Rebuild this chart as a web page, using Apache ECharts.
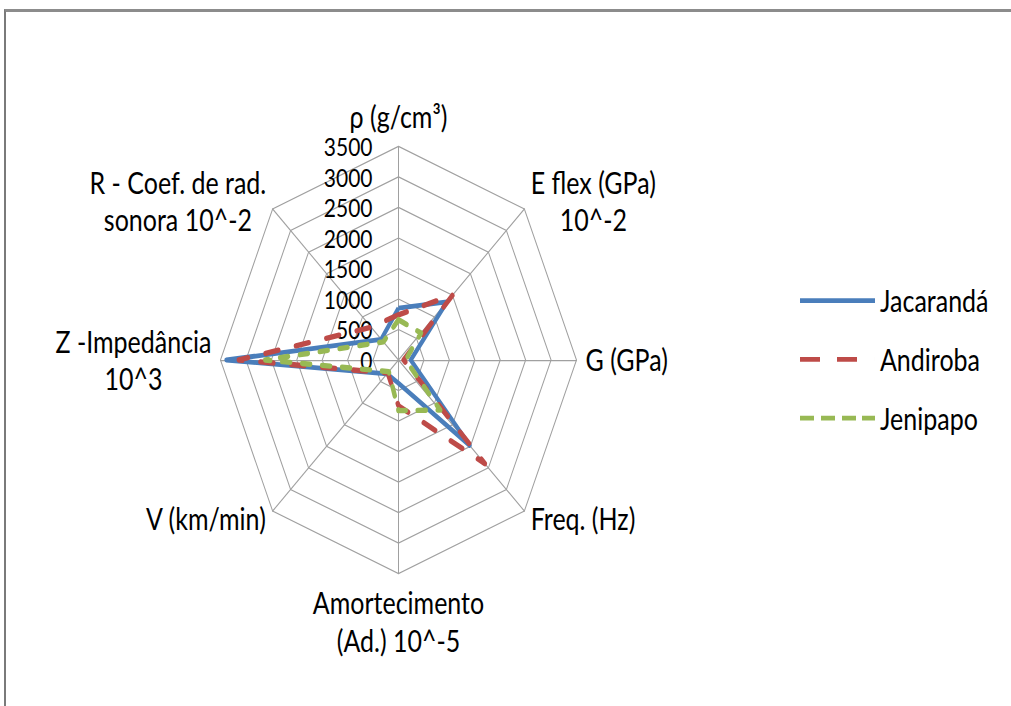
<!DOCTYPE html>
<html><head><meta charset="utf-8">
<script src="https://cdn.jsdelivr.net/npm/echarts@6/dist/echarts.min.js"></script>
<style>
html,body{margin:0;padding:0;background:#fff;width:1011px;height:706px;overflow:hidden;}
#frame{position:absolute;left:4px;top:9px;width:1011px;height:700px;border-top:3px solid #8c8c8c;border-left:2px solid #7a7a7a;}
#chart{position:absolute;left:0;top:0;width:1011px;height:588px;transform:scaleY(1.2);transform-origin:0 0;}
</style></head><body>
<div id="frame"></div>
<div id="chart"></div>
<script>
// Axes in clockwise order starting from the top
const indicators = ['ρ (g/cm³)', 'E flex (GPa)\n10^-2', 'G (GPa)', 'Freq. (Hz)', 'Amortecimento\n(Ad.) 10^-5', 'V (km/min)', 'Z -Impedância\n10^3', 'R - Coef. de rad.\nsonora 10^-2'];
const seriesNames = ['Jacarandá', 'Andiroba', 'Jenipapo'];
const jacaranda = [850, 1345, 240, 1980, 380, 320, 3385, 480];
const andiroba  = [740, 1510, 100, 2400, 750, 300, 3140, 760];
const jenipapo  = [660, 625, 140, 1160, 830, 270, 2620, 420];
const scaleTicks = [0, 500, 1000, 1500, 2000, 2500, 3000, 3500];

const colors = ['#4A7EBB', '#BE4B48', '#98B954'];
const FONT = 'Lato';
const FS = 25;

// ECharts radar goes counter-clockwise; reorder so the picture reads clockwise
const order = [0, 7, 6, 5, 4, 3, 2, 1];
const reorder = arr => order.map(i => arr[i]);
const vmin = scaleTicks[0], vmax = scaleTicks[scaleTicks.length - 1];
const step = scaleTicks[1] - scaleTicks[0];

const chart = echarts.init(document.getElementById('chart'), null, {renderer: 'svg'});
const option = {
  animation: false,
  backgroundColor: 'transparent',
  radar: {
    center: [398.5, 300],
    radius: 178,
    startAngle: 90,
    splitNumber: scaleTicks.length - 1,
    shape: 'polygon',
    nameGap: 9,
    indicator: order.map(i => ({name: indicators[i], min: vmin, max: vmax})),
    axisName: {
      color: '#000', fontFamily: FONT, fontSize: FS, lineHeight: 31,
      formatter: function (v) {
        return v.split('\n').map(l => '{c|' + l + '}').join('\n');
      },
      rich: {c: {align: 'center', color: '#000', fontFamily: FONT, fontSize: FS, lineHeight: 31}}
    },
    splitLine: {lineStyle: {color: '#a0a0a0', width: 1}},
    splitArea: {show: false},
    axisLine: {lineStyle: {color: '#a0a0a0', width: 1}},
    axisTick: {show: false},
    axisLabel: {show: false}
  },
  grid: {left: 398.5, top: 122, width: 1, height: 178, containLabel: false},
  xAxis: {type: 'value', show: false},
  yAxis: {
    type: 'value', min: vmin, max: vmax, interval: step,
    axisLine: {show: false}, axisTick: {show: false}, splitLine: {show: false},
    axisLabel: {margin: 26, color: '#000', fontFamily: FONT, fontSize: 21, lineHeight: 21,
      formatter: v => String(scaleTicks[Math.round((v - vmin) / step)])}
  },
  legend: {
    orient: 'vertical', left: 800, top: 238, padding: 0,
    itemWidth: 75, itemHeight: 4, itemGap: 24,
    textStyle: {color: '#000', fontFamily: FONT, fontSize: FS},
    data: [
      {name: seriesNames[0], icon: 'path://M0,0H75V4H0Z', itemStyle: {color: colors[0], borderWidth: 0}},
      {name: seriesNames[1], icon: 'path://M0,0H20V4H0Z M37,0H57V4H37Z M74.99,0H75V4H74.99Z', itemStyle: {color: colors[1], borderWidth: 0}},
      {name: seriesNames[2], icon: 'path://M0,0H14V4H0Z M21,0H35V4H21Z M42,0H56V4H42Z M62,0H75V4H62Z', itemStyle: {color: colors[2], borderWidth: 0}}
    ]
  },
  series: [{
    type: 'radar',
    symbol: 'none',
    data: [
      {name: seriesNames[0], value: reorder(jacaranda), itemStyle: {color: colors[0]},
       lineStyle: {color: colors[0], width: 4, type: 'solid', join: 'round'}},
      {name: seriesNames[1], value: reorder(andiroba), itemStyle: {color: colors[1]},
       lineStyle: {color: colors[1], width: 4.5, type: [13, 18], cap: 'round'}},
      {name: seriesNames[2], value: reorder(jenipapo), itemStyle: {color: colors[2]},
       lineStyle: {color: colors[2], width: 4.5, type: [8, 12], cap: 'round'}}
    ]
  }]
};
chart.setOption(option);
</script>
</body></html>
